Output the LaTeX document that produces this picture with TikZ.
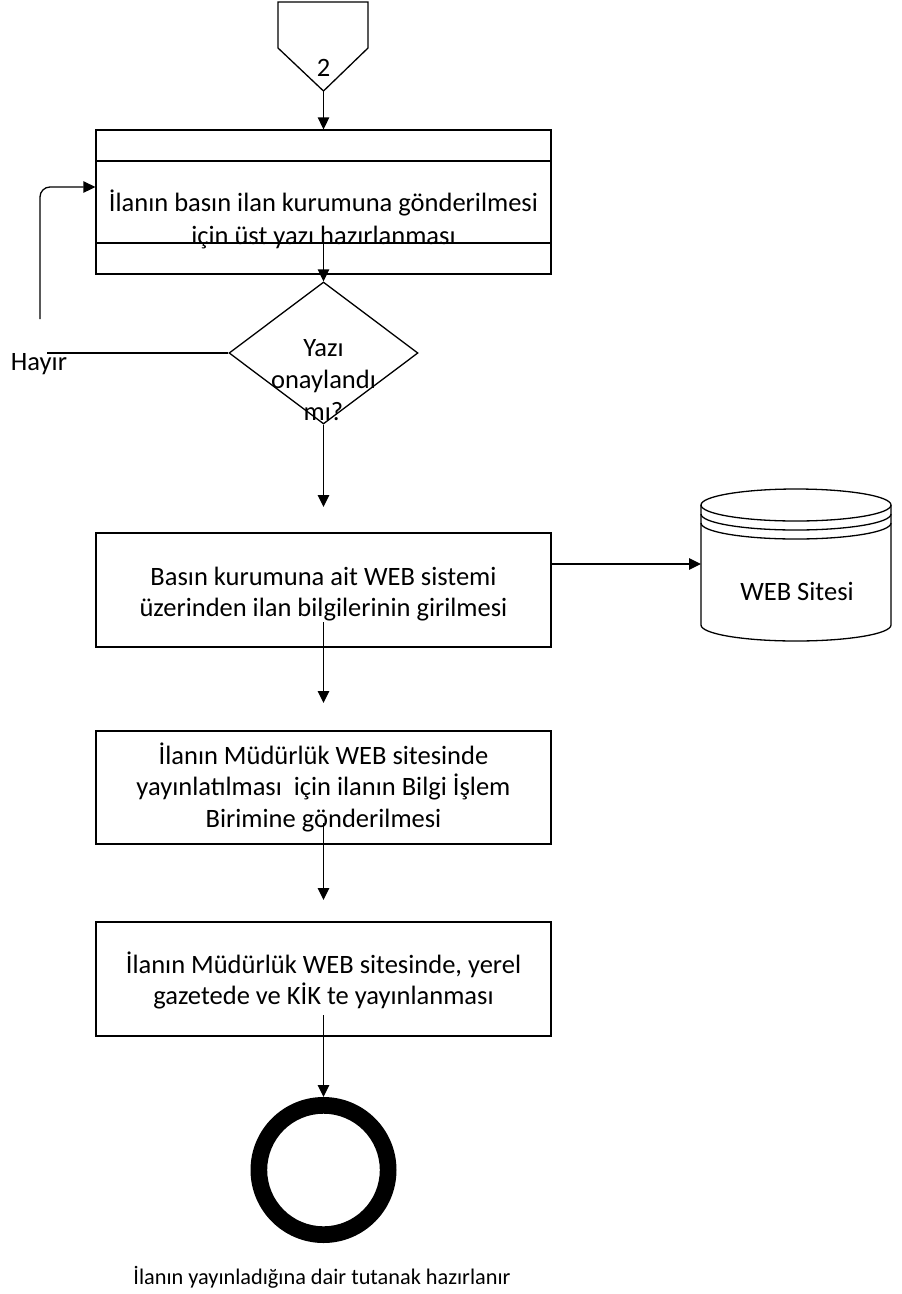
\documentclass[tikz,border=0pt]{standalone}
\usepackage{fontspec}
\setmainfont{Carlito}
\usetikzlibrary{shapes.geometric,arrows.meta}
\begin{document}
\begin{tikzpicture}[x=1pt,y=-1pt,
  ln/.style={line width=1.3pt},
  arr/.style={ln,-{Triangle[length=12pt,width=11.5pt]}},
  box/.style={draw,ln,minimum width=455pt,inner sep=0pt},
  txt/.style={anchor=base,inner sep=0pt,font=\fontsize{26.5}{31}\selectfont},
  small/.style={anchor=base,inner sep=0pt,font=\fontsize{22.3}{27}\selectfont}]
\useasboundingbox (0,0) rectangle (902,1294);

% off-page connector
\draw[ln] (278,2) -- (368,2) -- (368,48) -- (323.5,91) -- (278,48) -- cycle;
\coordinate (conntip) at (323.5,91);
\node[txt] (c2) at (323.5,76) {2};

% box 1 (predefined process)
\node[box,minimum height=144pt] (b1) at (323.5,202) {};
\draw[ln] (b1.west |- 0,161) -- (b1.east |- 0,161);
\draw[ln] (b1.west |- 0,243) -- (b1.east |- 0,243);
\node[txt] (t1a) at (323.5,211) {İlanın basın ilan kurumuna gönderilmesi};
\node[txt] (t1b) at (323.5,244) {için üst yazı hazırlanması};

% decision
\node[draw,ln,diamond,minimum width=189pt,minimum height=142pt,inner sep=0pt] (dia) at (323.5,353) {};
\node[txt] (d1) at (323.5,356) {Yazı};
\node[txt] (d2) at (323.5,388) {onaylandı};
\node[txt] (d3) at (323.5,420) {mı?};

% no-branch
\coordinate (hend) at (47,353);
\coordinate (lstart) at (40,319);
\draw[ln] (dia.west) -- (hend);
\node[txt] (hayir) at (39,370) {Hayır};
\draw[arr,rounded corners=10pt] (lstart) -- (40,187) -- (b1.west |- 0,187);

% box 2
\node[box,minimum height=114pt] (b2) at (323.5,590) {};
\node[txt] (t2a) at (323.5,585) {Basın kurumuna ait WEB sistemi};
\node[txt] (t2b) at (323.5,616) {üzerinden ilan bilgilerinin girilmesi};

% cylinder (web site)
\draw[ln,fill=white] (701,505) -- (701,625) arc[start angle=180,end angle=0,x radius=95,y radius=16] -- (891,505);
\draw[ln] (796,505) ellipse[x radius=95,y radius=16];
\draw[ln] (701,514) arc[start angle=180,end angle=0,x radius=95,y radius=16];
\draw[ln] (701,523) arc[start angle=180,end angle=0,x radius=95,y radius=16];
\coordinate (cylw) at (701,564);
\node[txt] (web) at (797,600) {WEB Sitesi};

% box 3
\node[box,minimum height=113pt] (b3) at (323.5,787.5) {};
\node[txt] (t3a) at (323.5,764) {İlanın Müdürlük WEB sitesinde};
\node[txt] (t3b) at (323.5,795.5) {yayınlatılması\ \ için ilanın Bilgi İşlem};
\node[txt] (t3c) at (323.5,827) {Birimine gönderilmesi};

% box 4
\node[box,minimum height=114pt] (b4) at (323.5,979) {};
\node[txt] (t4a) at (323.5,973.5) {İlanın Müdürlük WEB sitesinde, yerel};
\node[txt] (t4b) at (323.5,1004.5) {gazetede ve KİK te yayınlanması};

% end event
\node[circle,minimum size=146pt,inner sep=0pt,outer sep=0pt] (endc) at (323.5,1170) {};
\fill[even odd rule] (endc.center) circle[radius=73] (endc.center) circle[radius=56.3];
\node[small] (lbl) at (322,1284) {İlanın yayınladığına dair tutanak hazırlanır};

% free arrow ends
\coordinate (a3) at (323.5,507);
\coordinate (a4) at (323.5,703);
\coordinate (a5) at (323.5,900);

% connectors
\draw[arr] (conntip) -- (b1.north);
\draw[arr] (b1.center |- 0,243) -- (dia.north);
\draw[arr] (dia.south) -- (a3);
\draw[arr] (b2.east |- 0,564) -- (cylw);
\draw[arr] (b2.center |- 0,622) -- (a4);
\draw[arr] (b3.center |- 0,823) -- (a5);
\draw[arr] (b4.center |- 0,1015) -- (endc.north);
\end{tikzpicture}
\end{document}
